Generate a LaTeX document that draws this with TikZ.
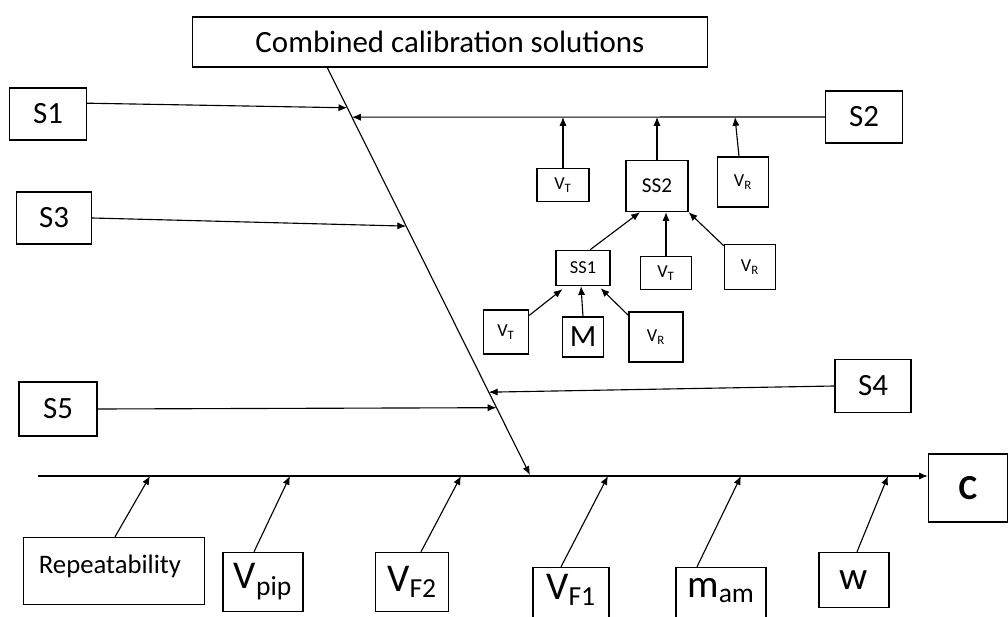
\documentclass[tikz,border=0pt]{standalone}
\usepackage{fontspec}
\setmainfont{Carlito}
\usetikzlibrary{arrows.meta,calc}
\tikzset{
  box/.style={draw, rectangle, inner sep=0pt, line width=0.8pt},
  arr/.style={-{Latex[length=2.2mm,width=1.8mm]}, line width=0.8pt},
  big/.style={font=\fontsize{22}{26}\selectfont},
  huge/.style={font=\fontsize{28}{32}\selectfont},
  mid/.style={font=\fontsize{15}{18}\selectfont},
  sml/.style={font=\fontsize{13}{15}\selectfont},
}
\newcommand{\lo}[1]{\textsubscript{#1}}

\begin{document}
\begin{tikzpicture}[x=0.025cm, y=-0.025cm]
  \useasboundingbox (0,0) rectangle (1008,617);
  % head and causes on the left/right
  \node[box, big, minimum width=12.875cm, minimum height=1.25cm] (comb) at (450,42) {Combined calibration solutions};
  \node[box, big, minimum width=1.93cm, minimum height=1.3cm] (S1) at (48,114) {S1};
  \node[box, big, minimum width=1.93cm, minimum height=1.3cm] (S2) at (864,117) {S2};
  \node[box, big, minimum width=1.88cm, minimum height=1.3cm] (S3) at (54,218) {S3};
  \node[box, big, minimum width=1.9cm, minimum height=1.33cm] (S4) at (873,386) {S4};
  \node[box, big, minimum width=1.95cm, minimum height=1.35cm] (S5) at (58,409) {S5};
  \node[box, font=\fontsize{25}{30}\selectfont\bfseries, minimum width=1.98cm, minimum height=1.7cm] (C) at (968,488) {C};

  % sub-causes of S2
  \node[box, sml, minimum width=1.3cm, minimum height=0.83cm] (vt1) at (563,185) {V\lo{T}};
  \node[box, mid, minimum width=1.55cm, minimum height=1.28cm] (ss2) at (657,186) {SS2};
  \node[box, sml, minimum width=1.28cm, minimum height=1.25cm] (vr1) at (743,182) {V\lo{R}};
  \node[box, sml, minimum width=1.35cm, minimum height=0.88cm] (ss1) at (583,268) {SS1};
  \node[box, sml, minimum width=1.28cm, minimum height=0.83cm] (vt2) at (666,273) {V\lo{T}};
  \node[box, sml, minimum width=1.28cm, minimum height=1.13cm] (vr2) at (750,267) {V\lo{R}};
  \node[box, sml, minimum width=1.13cm, minimum height=1.1cm] (vt3) at (506,332) {V\lo{T}};
  \node[box, big, minimum width=1.03cm, minimum height=1.0cm] (m) at (583,337) {M};
  \node[box, sml, minimum width=1.35cm, minimum height=1.25cm] (vr3) at (656,337) {V\lo{R}};

  % causes under the spine
  \node[box, font=\fontsize{19}{22}\selectfont, minimum width=4.53cm, minimum height=1.68cm] (rep) at (114,571) {\raisebox{0.35cm}{Repeatability\hspace{0.2cm}}};
  \node[box, huge, minimum width=2.0cm, minimum height=1.48cm] (vpip) at (263,582) {V\lo{pip}};
  \node[box, huge, minimum width=1.83cm, minimum height=1.48cm] (vf2) at (412,582) {V\lo{F2}};
  \node[box, minimum width=1.9cm, minimum height=1.48cm,
        label={[huge, yshift=0.17cm]center:V\lo{F1}}] (vf1) at (571,597) {};
  \node[box, minimum width=2.25cm, minimum height=1.48cm,
        label={[huge, yshift=0.17cm]center:m\lo{am}}] (mam) at (721,597) {};
  \node[box, huge, minimum width=1.75cm, minimum height=1.38cm] (w) at (854,580) {w};

  % spine and diagonal bone
  \coordinate (tail) at (38,476);
  \draw[arr] (tail) -- (C.west |- tail);
  \coordinate (d0) at (327,67);
  \coordinate (d1) at (530,475);
  \draw[arr] (d0) -- (d1);
  \coordinate (p1) at ($(d0)!0.10!(d1)$);
  \coordinate (p2) at ($(d0)!0.123!(d1)$);
  \coordinate (p3) at ($(d0)!0.39!(d1)$);
  \coordinate (p4) at ($(d0)!0.797!(d1)$);
  \coordinate (p5) at ($(d0)!0.835!(d1)$);

  \draw[arr] ([yshift=0.27cm]S1.east) -- (p1);
  \draw[arr] (S2.west) -- (p2);
  \draw[arr] (S3.east) -- (p3);
  \draw[arr] (S4.west) -- (p4);
  \draw[arr] (S5.east) -- (p5);

  \draw[arr] (vt1.north) -- (vt1.north |- S2.west);
  \draw[arr] (ss2.north) -- (ss2.north |- S2.west);
  \draw[arr] ($(vr1.north)+(-4,0)$) -- ($(vr1.north |- S2.west)+(-8,0)$);
  \draw[arr] ($(ss1.north)+(7,0)$) -- ($(ss2.south)+(-17,0)$);
  \draw[arr] (vt2.north) -- (vt2.north |- ss2.south);
  \draw[arr] ($(vr2.north west)+(0,2)$) -- (ss2.south east);
  \draw[arr] ($(vt3.north east)+(0,6)$) -- ($(ss1.south west)+(7,3)$);
  \draw[arr] (m.north) -- ($(ss1.south)+(-2,0)$);
  \draw[arr] ($(vr3.north west)+(0,4)$) -- ($(ss1.south east)+(-10,2)$);

  \foreach \n/\dx/\x in {rep/1/150, vpip/-9/290, vf2/9/461, vf1/-10/608, mam/-24/741, w/3/888}
  {
    \coordinate (\n-top) at (\x,476);
    \draw[arr] ($(\n.north)+(\dx,0)$) -- (\n-top);
  }
\end{tikzpicture}
\end{document}
